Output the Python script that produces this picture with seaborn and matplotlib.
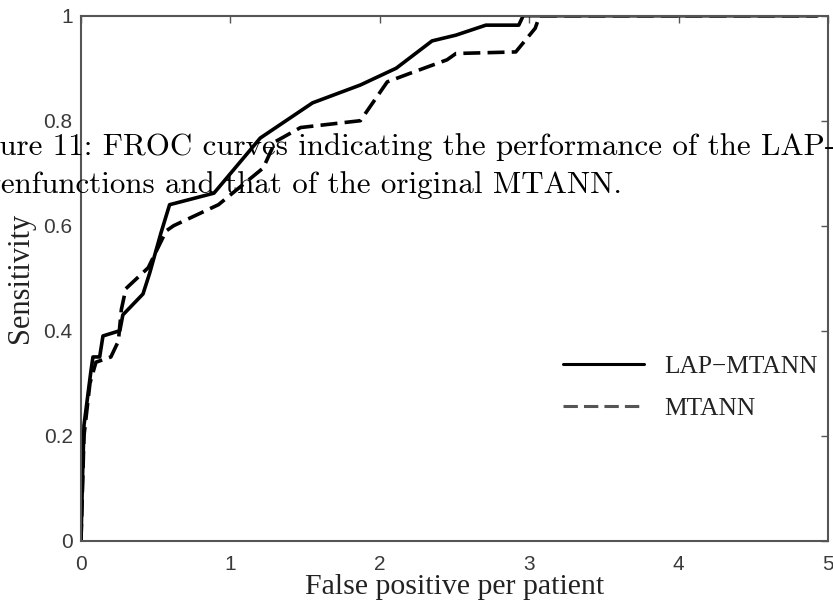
import matplotlib
matplotlib.use("Agg")
import matplotlib.pyplot as plt
import seaborn as sns
import pandas as pd

# ---- data ----
lap_x = [0, 0.01, 0.02, 0.065, 0.08, 0.125, 0.147, 0.26, 0.28, 0.415, 0.46, 0.535,
         0.593, 0.89, 1.2, 1.55, 1.87, 2.11, 2.35, 2.51, 2.71, 2.93, 2.96, 4.93]
lap_y = [0, 0.12, 0.22, 0.32, 0.35, 0.35, 0.39, 0.40, 0.43, 0.47, 0.51, 0.586,
         0.64, 0.662, 0.767, 0.834, 0.868, 0.90, 0.952, 0.963, 0.982, 0.982, 1.0, 1.0]
mt_x = [0, 0.01, 0.02, 0.06, 0.1, 0.2, 0.25, 0.27, 0.30, 0.45, 0.57, 0.62, 0.92,
        1.22, 1.3, 1.47, 1.87, 2.05, 2.2, 2.45, 2.51, 2.91, 3.04, 3.07, 4.93]
mt_y = [0, 0.1, 0.2, 0.3, 0.34, 0.35, 0.38, 0.44, 0.48, 0.52, 0.59, 0.60, 0.64,
        0.71, 0.76, 0.787, 0.80, 0.874, 0.89, 0.916, 0.928, 0.931, 0.976, 1.0, 1.0]
series_names = ["LAP\u2212MTANN", "MTANN"]
x_ticks = [0, 1, 2, 3, 4, 5]
x_ticklabels = ["0", "1", "2", "3", "4", "5"]
y_ticks = [0, 0.2, 0.4, 0.6, 0.8, 1.0]
y_ticklabels = ["0", "0.2", "0.4", "0.6", "0.8", "1"]
x_label = "False positive per patient"
y_label = "Sensitivity"
caption1 = "Figure 11: FROC curves indicating the performance of the LAP-"
caption2 = "eigenfunctions and that of the original MTANN."

df = pd.concat([
    pd.DataFrame({"x": lap_x, "y": lap_y, "method": series_names[0]}),
    pd.DataFrame({"x": mt_x, "y": mt_y, "method": series_names[1]}),
], ignore_index=True)

sns.set_style("white")
W, H = 833, 608
fig = plt.figure(figsize=(W / 100, H / 100), dpi=100)
ax = fig.add_axes([81 / W, 1 - 540.7 / H, (828 - 81) / W, (540.7 - 15.7) / H])

sns.lineplot(data=df, x="x", y="y", hue="method", style="method",
             palette={series_names[0]: "black", series_names[1]: "black"},
             dashes={series_names[0]: "", series_names[1]: (4.7, 2.0)},
             sort=False, estimator=None, linewidth=2.6, ax=ax, legend=True)

ax.set_xlim(0, 5)
ax.set_ylim(0, 1)
ax.set_xticks(x_ticks)
ax.set_xticklabels(x_ticklabels)
ax.set_yticks(y_ticks)
ax.set_yticklabels(y_ticklabels)

spine_c = "#555555"
for s in ax.spines.values():
    s.set_visible(True)
    s.set_color(spine_c)
    s.set_linewidth(1.5)

ax.tick_params(axis="both", direction="in", length=5, width=1, color=spine_c,
               top=True, right=True, labelcolor="#3a3a3a")
ax.tick_params(axis="x", pad=10)
ax.tick_params(axis="y", pad=6)
for lab in ax.get_xticklabels() + ax.get_yticklabels():
    lab.set_fontfamily("Liberation Sans")
    lab.set_fontsize(15)

ax.set_xlabel(x_label, family="Liberation Serif", fontsize=21.5, color="#222222", labelpad=0)
ax.set_ylabel(y_label, family="Liberation Serif", fontsize=22, color="#222222", labelpad=6)

handles, labels = ax.get_legend_handles_labels()
leg = ax.legend(handles, labels, loc="upper left",
                bbox_to_anchor=(563 / W, 1 - 355 / H), bbox_transform=fig.transFigure,
                frameon=False, borderpad=0, borderaxespad=0, handlelength=3.2,
                handletextpad=0.8, labelspacing=0.75,
                prop={"family": "Liberation Serif", "size": 18.3})
for t in leg.get_texts():
    t.set_color("#222222")
leg_lines = leg.get_lines()
for l in leg_lines:
    l.set_linewidth(2.2)
if len(leg_lines) > 1:
    leg_lines[1].set_color("#555555")

fig.text(-45 / W, 1 - 155 / H, caption1, family="cmr10", fontsize=22.3,
         va="baseline", ha="left", color="black")
fig.text(-37 / W, 1 - 193 / H, caption2, family="cmr10", fontsize=22.3,
         va="baseline", ha="left", color="black")

fig.savefig("out.png", dpi=100)
